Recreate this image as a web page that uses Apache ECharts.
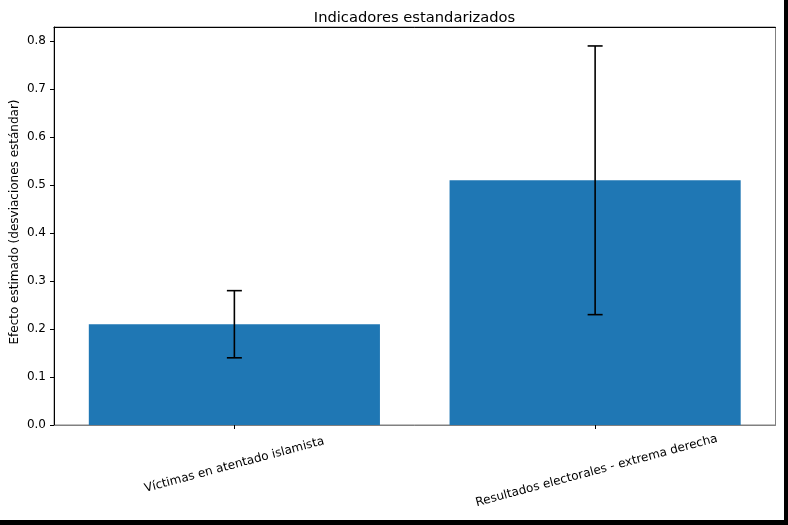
<!DOCTYPE html>
<html><head><meta charset="utf-8">
<script src="https://cdn.jsdelivr.net/npm/echarts@6/dist/echarts.min.js"></script>
<style>html,body{margin:0;padding:0;background:#fff}#c{width:788px;height:525px}</style>
</head><body><div id="c"></div>
<script>
const categories = ['Víctimas en atentado islamista', 'Resultados electorales - extrema derecha'];
const values = [0.21, 0.51];
const lowerErr = [0.14, 0.23];
const upperErr = [0.28, 0.79];
const yTicks = [0, 0.1, 0.2, 0.3, 0.4, 0.5, 0.6, 0.7, 0.8];
const yMax = 0.8295;

const FONT = 'DejaVu Sans';
const chart = echarts.init(document.getElementById('c'), null, {renderer: 'canvas'});
const labelVAlign = ['middle', 'top'];
chart.setOption({
  animation: false,
  backgroundColor: '#fff',
  title: {
    text: 'Indicadores estandarizados', left: 409.5, top: 6, textAlign: 'center',
    textStyle: {fontFamily: FONT, fontSize: 14.7, fontWeight: 'normal', color: '#000'}
  },
  grid: {left: 54, right: 12.5, top: 27, bottom: 100, show: true, borderColor: '#808080', borderWidth: 1,
    containLabel: false, outerBoundsMode: 'none'},
  xAxis: [{
    type: 'category',
    data: categories.map((c, i) => ({value: c, textStyle: {align: 'center', verticalAlign: labelVAlign[i]}})),
    axisLine: {lineStyle: {color: '#808080', width: 1}},
    axisTick: {show: true, alignWithLabel: true, length: 4, lineStyle: {color: '#000'}},
    axisLabel: {interval: 0, rotate: 15, align: 'center', verticalAlign: 'middle', margin: 40,
      fontFamily: FONT, fontSize: 12, color: '#000'}
  }, {
    type: 'category', position: 'top', data: categories,
    axisLine: {lineStyle: {color: '#000', width: 1}}, axisTick: {show: false}, axisLabel: {show: false}
  }],
  yAxis: {
    type: 'value', min: 0, max: yMax,
    name: 'Efecto estimado (desviaciones estándar)', nameLocation: 'middle', nameGap: 33,
    nameMoveOverlap: false,
    nameTextStyle: {fontFamily: FONT, fontSize: 12, color: '#000', padding: [0, 0, 0, 8]},
    axisLine: {show: true, lineStyle: {color: '#000', width: 1}},
    axisTick: {show: true, length: 4, customValues: yTicks, lineStyle: {color: '#000'}},
    axisLabel: {customValues: yTicks, formatter: v => v.toFixed(1), margin: 8,
      fontFamily: FONT, fontSize: 12, color: '#000'},
    splitLine: {show: false}
  },
  series: [{
    type: 'bar', data: values, barWidth: '80.7%',
    itemStyle: {color: '#1f77b4'}
  }, {
    type: 'custom',
    data: values.map((v, i) => [i, lowerErr[i], upperErr[i]]),
    encode: {x: 0, y: [1, 2]},
    z: 10,
    renderItem: function (params, api) {
      const i = api.value(0);
      const lo = api.coord([i, api.value(1)]);
      const hi = api.coord([i, api.value(2)]);
      const cap = 7.5;
      const st = {stroke: '#000', lineWidth: 1.6};
      return {type: 'group', children: [
        {type: 'line', shape: {x1: lo[0], y1: lo[1], x2: hi[0], y2: hi[1]}, style: st},
        {type: 'line', shape: {x1: lo[0]-cap, y1: lo[1], x2: lo[0]+cap, y2: lo[1]}, style: st},
        {type: 'line', shape: {x1: hi[0]-cap, y1: hi[1], x2: hi[0]+cap, y2: hi[1]}, style: st}
      ]};
    }
  }],
  graphic: [
    {type: 'rect', shape: {x: 784, y: 0, width: 4, height: 525}, style: {fill: '#000'}, silent: true},
    {type: 'rect', shape: {x: 0, y: 520, width: 788, height: 5}, style: {fill: '#000'}, silent: true}
  ]
});
</script></body></html>
